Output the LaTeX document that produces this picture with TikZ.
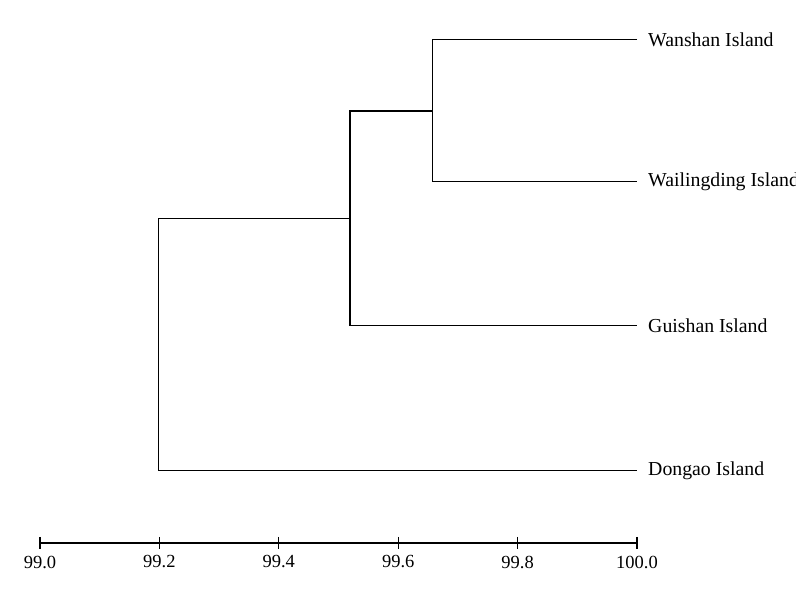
\documentclass[tikz,border=0pt]{standalone}
\usepackage{fontspec}
\setmainfont{Liberation Serif}
\usetikzlibrary{calc}
\begin{document}
\begin{tikzpicture}[x=1pt,y=-1pt,
  leaf/.style={anchor=west,inner sep=0pt,font=\fontsize{19.8}{22}\selectfont},
  ticklab/.style={inner sep=0pt,font=\fontsize{18.5}{22}\selectfont},
  branch/.style={line width=1pt,black},
  thick branch/.style={line width=1.8pt,black},
  axis/.style={line width=1.6pt,black}]
\clip (0,0) rectangle (796,609);
\fill[white] (0,0) rectangle (796,609);
% leaves
\node[leaf] (wan) at (648,40) {Wanshan Island};
\node[leaf] (wai) at (648,182) {Wailingding Island};
\node[leaf] (gui) at (648,326) {Guishan Island};
\node[leaf] (don) at (648,471) {Dongao Island};
% internal nodes
\coordinate (n1) at (432,111);
\coordinate (n2) at (350,219);
\coordinate (n3) at (158,345);
% cluster n1
\draw[branch] ([xshift=-11pt]wan.west) -- (n1|-wan.west) -- (n1|-wai.west) -- ([xshift=-11pt]wai.west);
% cluster n2
\draw[thick branch] (n1) -- (n2|-n1) -- (n2|-gui.west);
\draw[branch] (n2|-gui.west) -- ([xshift=-11pt]gui.west);
% root
\draw[branch] (n2) -- (n3|-n2) -- (n3|-don.west) -- ([xshift=-11pt]don.west);
% axis
\coordinate (a0) at (40,543);
\coordinate (a5) at (637,543);
\draw[axis] (a0) -- (a5);
\foreach \i/\v in {0/99.0,1/99.2,2/99.4,3/99.6,4/99.8,5/100.0}{
  \coordinate (t\i) at ($(a0)!\i/5!(a5)$);
  \draw[line width=1.2pt] (t\i) ++(0,-6) -- ++(0,12);
  \node[ticklab] (l\i) at ([yshift=-19pt]t\i) {\v};
}
\end{tikzpicture}
\end{document}
